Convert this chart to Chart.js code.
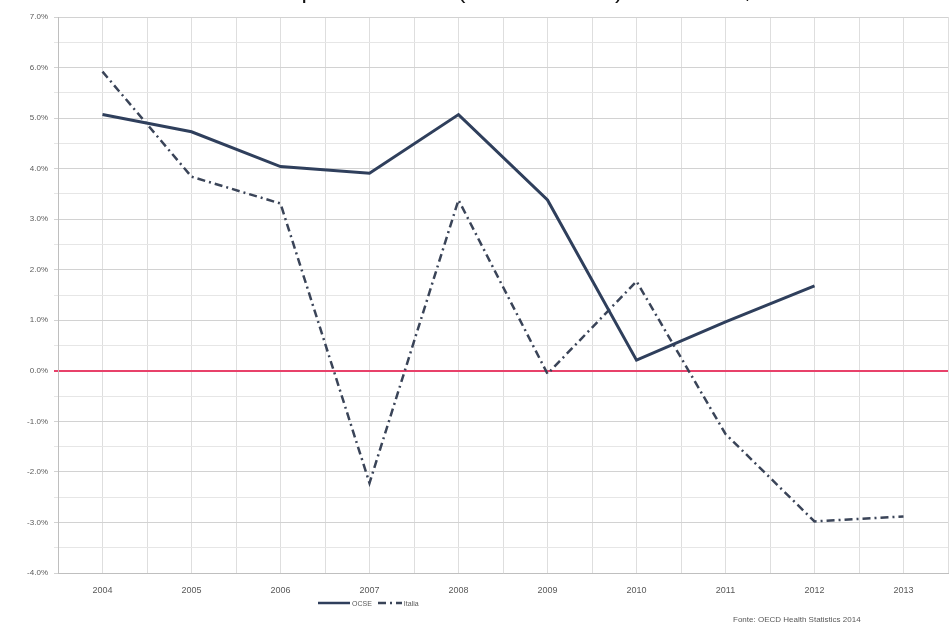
<!DOCTYPE html>
<html>
<head>
<meta charset="utf-8">
<script src="https://cdn.jsdelivr.net/npm/chart.js@4.4.0/dist/chart.umd.min.js"></script>
<style>
html, body { margin: 0; padding: 0; background: #fff; overflow: hidden; width: 949px; height: 628px; }
#wrap { position: relative; width: 960px; height: 628px; }
#title { position: absolute; top: -22px; white-space: nowrap; font: 24px "Liberation Sans", Arial, sans-serif; line-height: 24px; color: #111; }
#legend { position: absolute; top: 599px; left: 318px; display: flex; align-items: center; font: 7px "Liberation Sans", Arial, sans-serif; color: #595959; }
#legend span { margin: 0 6px 0 2px; }
#fonte { position: absolute; top: 615px; left: 733px; font: 8px "Liberation Sans", Arial, sans-serif; color: #595959; white-space: nowrap; }
</style>
</head>
<body>
<div id="wrap">
  <div id="title"><span id="pre">Tasso di crescita della s</span>pesa sanitaria (in termini reali) 2004-2013, OCSE e Italia</div>
  <canvas id="chart" width="960" height="628"></canvas>
  <div id="legend">
    <svg width="32" height="8"><line x1="0" y1="4" x2="32" y2="4" stroke="#2f3f5c" stroke-width="2.5"/></svg><span>OCSE</span>
    <svg width="24" height="8"><line x1="0" y1="4" x2="24" y2="4" stroke="#3a4458" stroke-width="2.5" stroke-dasharray="8 4 2 4"/></svg><span>Italia</span>
  </div>
  <div id="fonte">Fonte: OECD Health Statistics 2014</div>
</div>
<script>
// anni e variazioni percentuali
var anni   = [2004, 2005, 2006, 2007, 2008, 2009, 2010, 2011, 2012, 2013];
var ocse   = [5.07, 4.73, 4.04, 3.91, 5.07, 3.38, 0.21, 0.97, 1.68, null];
var italia = [5.92, 3.84, 3.31, -2.22, 3.38, -0.06, 1.77, -1.25, -2.98, -2.88];
var serie  = ['OCSE', 'Italia'];

// titolo: allinea la "p" di spesa come nell'originale
var pre = document.getElementById('pre');
document.getElementById('title').style.left = (303 - pre.offsetWidth - 2) + 'px';

function punti(valori) {
    return anni.map(function (a, i) { return { x: a, y: valori[i] }; });
}

var ctx = document.getElementById('chart');
var chart = new Chart(ctx, {
    type: 'line',
    data: {
        datasets: [{
            label: serie[0],
            data: punti(ocse),
            borderColor: '#2f3f5c',
            borderWidth: 3,
            pointRadius: 0,
            tension: 0,
            spanGaps: false
        }, {
            label: serie[1],
            data: punti(italia),
            borderColor: '#3a4458',
            borderWidth: 2.5,
            borderDash: [8, 4, 2, 4],
            pointRadius: 0,
            tension: 0
        }]
    },
    options: {
        responsive: false,
        animation: false,
        layout: { padding: { top: 17, right: 2, left: 0, bottom: 0 } },
        plugins: {
            legend: { display: false },
            tooltip: { enabled: false }
        },
        scales: {
            x: {
                type: 'linear',
                min: 2003.5,
                max: 2013.5,
                afterFit: function (s) { s.height = 55; },
                ticks: {
                    stepSize: 0.5,
                    autoSkip: false,
                    maxRotation: 0,
                    padding: 12,
                    color: '#595959',
                    font: { family: 'Liberation Sans', size: 9 },
                    callback: function (v) { return Number.isInteger(v) ? String(v) : ''; }
                },
                grid: { color: '#dedede', drawTicks: false },
                border: { color: '#bfbfbf' }
            },
            y: {
                min: -4,
                max: 7,
                afterFit: function (s) { s.width = 58; },
                ticks: {
                    stepSize: 0.5,
                    padding: 6,
                    color: '#595959',
                    font: { family: 'Liberation Sans', size: 8 },
                    callback: function (v) { return Number.isInteger(v) ? v.toFixed(1) + '%' : ''; }
                },
                grid: {
                    tickLength: 4,
                    color: function (c) {
                        var v = c.tick.value;
                        if (v === 0) return '#e8416a';
                        return Number.isInteger(v) ? '#d2d2d2' : '#e6e6e6';
                    },
                    lineWidth: function (c) { return c.tick.value === 0 ? 2 : 1; }
                },
                border: { color: '#bfbfbf' }
            }
        }
    }
});
</script>
</body>
</html>
